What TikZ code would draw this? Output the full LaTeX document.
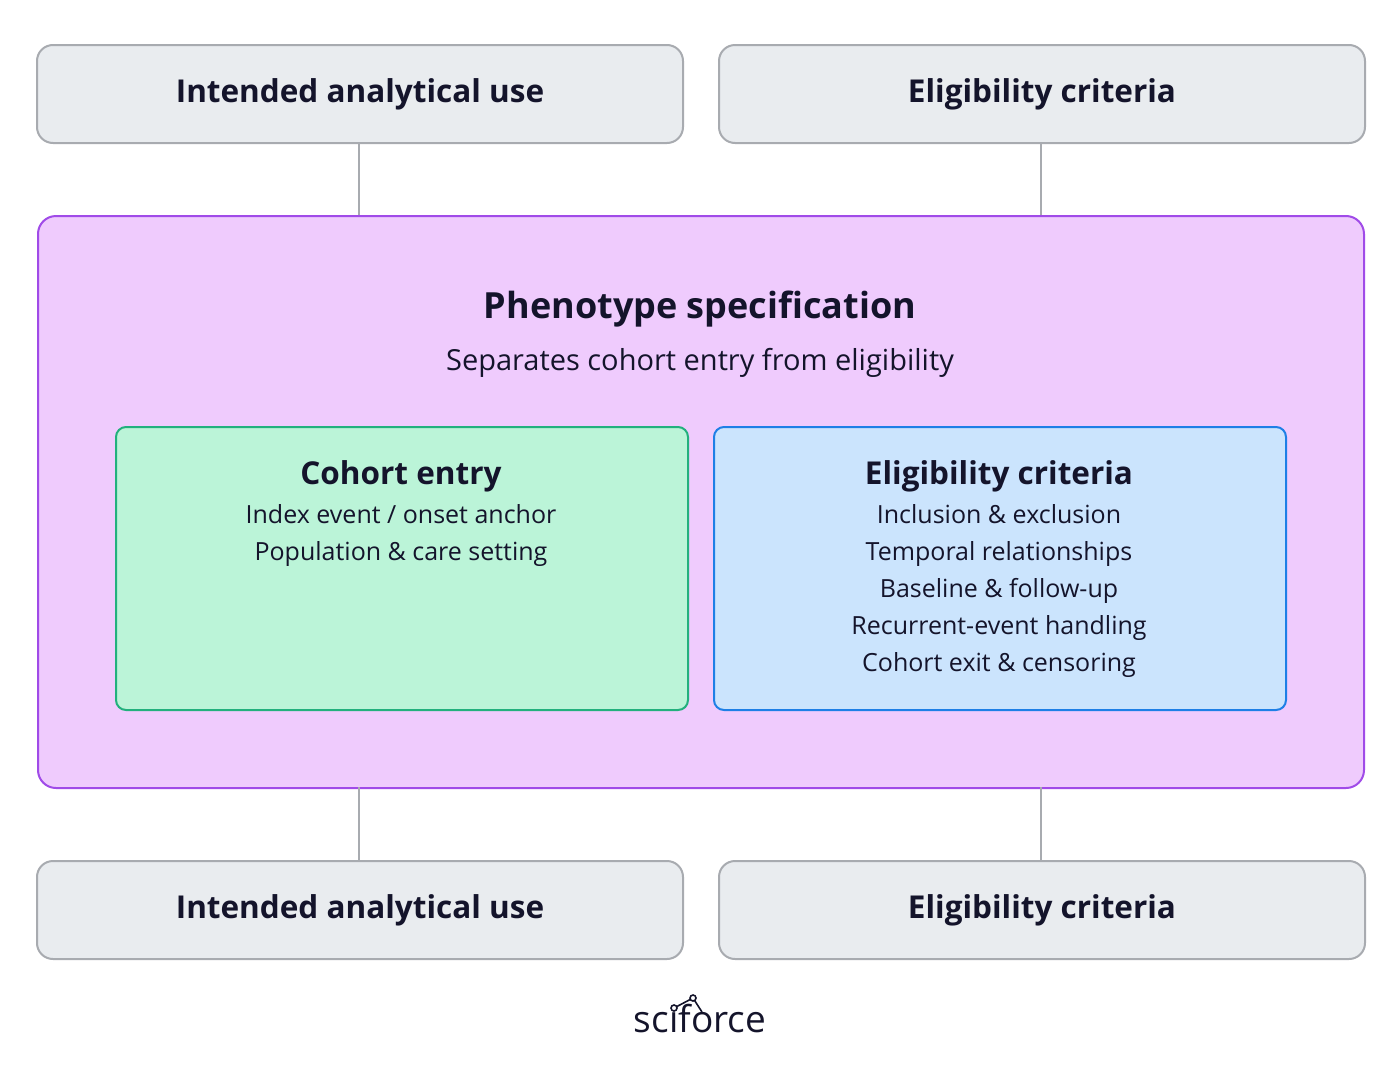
\documentclass[tikz,border=0pt]{standalone}
\usepackage{fontspec}
\setmainfont{Open Sans}
\definecolor{txt}{HTML}{14142B}
\definecolor{gfill}{HTML}{E9ECEF}
\definecolor{gline}{HTML}{A8ABB0}
\definecolor{pfill}{HTML}{EFCBFD}
\definecolor{pline}{HTML}{A04BE8}
\definecolor{efill}{HTML}{BBF4D8}
\definecolor{eline}{HTML}{22B07D}
\definecolor{bfill}{HTML}{CBE4FD}
\definecolor{bline}{HTML}{1E7FE6}
\begin{document}
\begin{tikzpicture}[x=1pt,y=-1pt,
  box/.style={draw=gline,fill=gfill,line width=2pt,rounded corners=16pt,minimum width=646pt,minimum height=98pt,anchor=north west,inner sep=0pt},
  conn/.style={draw=gline,line width=2pt},
  ttl/.style={font=\fontsize{31.5}{36}\selectfont\bfseries,text=txt},
  body/.style={font=\fontsize{25}{30}\selectfont,text=txt,anchor=base}]
\useasboundingbox (0,0) rectangle (1400,1074);
\node[box] (tl) at (36,44) {};
\node[box] (tr) at (718,44) {};
\node[box] (bl) at (36,860) {};
\node[box] (br) at (718,860) {};
\node[ttl] at (tl.center) {Intended analytical use};
\node[ttl] at (tr.center) {Eligibility criteria};
\node[ttl] at (bl.center) {Intended analytical use};
\node[ttl] at (br.center) {Eligibility criteria};
\node[draw=pline,fill=pfill,line width=2pt,rounded corners=18pt,minimum width=1326pt,minimum height=572pt,anchor=north west] (ph) at (37,215) {};
\coordinate (c1) at (359,215); \coordinate (c2) at (1041,215);
\coordinate (c3) at (359,787); \coordinate (c4) at (1041,787);
\draw[conn] (tl.south -| c1) -- (c1);
\draw[conn] (tr.south -| c2) -- (c2);
\draw[conn] (c3) -- (bl.north -| c3);
\draw[conn] (c4) -- (br.north -| c4);
\node[ttl,font=\fontsize{36}{40}\selectfont\bfseries,anchor=base] at (700,318) {Phenotype specification};
\node[body,font=\fontsize{29}{32}\selectfont] at (700,370) {Separates cohort entry from eligibility};
\node[draw=eline,fill=efill,line width=2pt,rounded corners=10pt,minimum width=572pt,minimum height=283pt,anchor=north west] (ce) at (115,426) {};
\node[draw=bline,fill=bfill,line width=2pt,rounded corners=10pt,minimum width=572pt,minimum height=283pt,anchor=north west] (ec) at (713,426) {};
\node[ttl,anchor=base] at (401,484) {Cohort entry};
\node[body] at (401,523) {Index event / onset anchor};
\node[body] at (401,560) {Population \& care setting};
\node[ttl,anchor=base] at (999,484) {Eligibility criteria};
\node[body] at (999,523) {Inclusion \& exclusion};
\node[body] at (999,560) {Temporal relationships};
\node[body] at (999,597) {Baseline \& follow-up};
\node[body] at (999,634) {Recurrent-event handling};
\node[body] at (999,671) {Cohort exit \& censoring};
\node[font=\fontsize{37}{42}\selectfont,text=txt,anchor=base] (logo) at (700,1032) {sciforce};
\coordinate (d1) at (674,1008); \coordinate (d2) at (693,998);
\draw[txt,line width=1.6pt] (d1) -- (d2) -- (702,1012);
\draw[txt,line width=1.6pt,fill=white] (d1) circle (3pt) (d2) circle (3pt);
\end{tikzpicture}
\end{document}
